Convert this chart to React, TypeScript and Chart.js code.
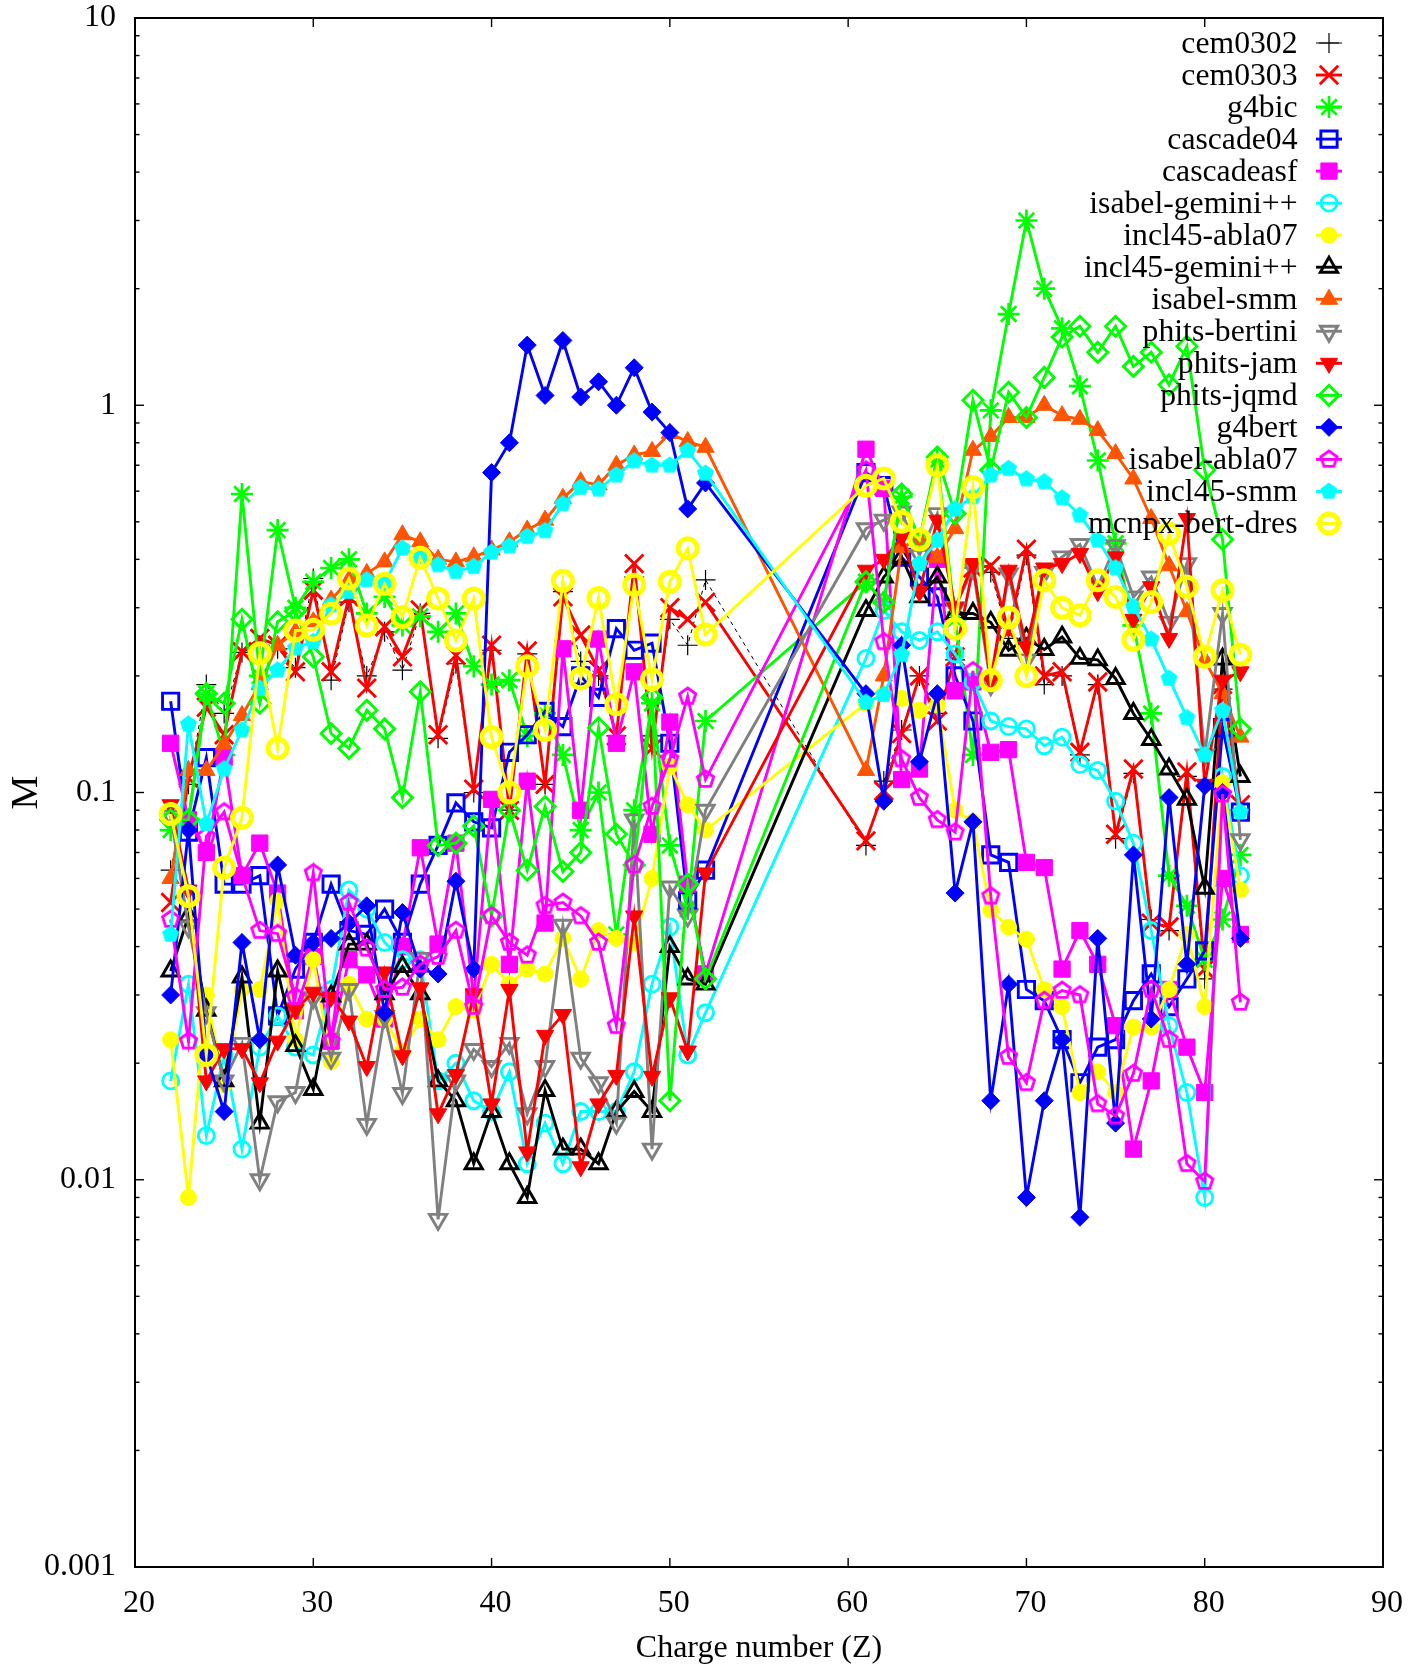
import React, { useEffect, useRef } from "react";
import { Chart, registerables } from "chart.js";
import { drawPoint } from "chart.js/helpers";

Chart.register(...registerables);

const Z = [22,23,24,25,26,27,28,29,30,31,32,33,34,35,36,37,38,39,40,41,42,43,44,45,46,47,48,49,50,51,52,
  61,62,63,64,65,66,67,68,69,70,71,72,73,74,75,76,77,78,79,80,81,82];

const cem0302 = [.063,.105,.19,.16,.23,.24,.235,.21,.357,.195,.31,.2,.26,.207,.29,.138,.215,.1,.233,.09,.228,.105,.33,.218,.2,.14,.36,.14,.28,.24,.354,
  .073,.107,.145,.2,.16,.22,.38,.37,.25,.41,.19,.2,.125,.19,.076,.112,.047,.044,.11,.033,.185,.09];
const cem0303 = [.052,.109,.166,.141,.231,.25,.24,.205,.333,.205,.32,.186,.268,.224,.296,.141,.226,.102,.24,.09,.232,.105,.32,.255,.207,.14,.39,.13,.3,.28,.31,
  .075,.101,.142,.2,.153,.224,.38,.385,.26,.425,.2,.205,.127,.193,.078,.115,.046,.045,.113,.035,.19,.093];
const g4bic = [.08,.085,.18,.125,.59,.2,.476,.3,.35,.38,.4,.29,.32,.27,.285,.26,.29,.212,.19,.195,.14,.16,.125,.08,.1,.043,.09,.17,.073,.05,.153,
  .35,.31,.58,.45,.72,.28,.125,.97,1.72,3.0,2.0,1.58,1.12,.72,.44,.27,.16,.061,.051,.037,.047,.069];
const cascade04 = [.172,.079,.123,.058,.058,.061,.0265,.035,.041,.058,.044,.043,.05,.041,.058,.073,.094,.084,.081,.127,.141,.162,.148,.2,.176,.265,.233,.243,.134,.0525,.063,
  .67,.62,.405,.36,.32,.2,.153,.069,.066,.031,.029,.023,.0178,.022,.023,.029,.034,.028,.033,.039,.147,.089];
const cascadeasf = [.134,.085,.07,.123,.061,.074,.055,.0273,.0377,.0228,.037,.0338,.026,.04,.072,.0406,.074,.0295,.096,.036,.107,.046,.235,.09,.249,.134,.205,.078,.152,.058,.034,
  .77,.61,.108,.115,.4,.183,.193,.127,.129,.066,.064,.035,.044,.036,.025,.012,.018,.031,.022,.0168,.06,.043];
const isabelGemini = [.018,.032,.013,.021,.012,.022,.0265,.022,.021,.031,.056,.05,.041,.037,.037,.018,.02,.016,.015,.019,.011,.014,.011,.015,.015,.015,.019,.032,.045,.021,.027,
  .222,.295,.26,.247,.26,.228,.193,.153,.148,.146,.132,.139,.118,.114,.095,.074,.044,.025,.0168,.009,.11,.061];
const inclAbla = [.023,.009,.03,.0176,.031,.031,.0525,.023,.037,.0202,.032,.026,.026,.0214,.026,.023,.028,.0274,.036,.032,.035,.034,.042,.033,.044,.042,.041,.06,.117,.093,.08,
  .17,.18,.175,.163,.168,.09,.084,.0497,.0449,.0418,.031,.028,.0168,.019,.0168,.0248,.0248,.031,.043,.028,.106,.056];
const inclGemini = [.0346,.048,.0274,.018,.0334,.014,.0346,.0222,.0171,.0298,.0406,.0406,.0302,.0355,.0302,.018,.016,.011,.015,.011,.009,.017,.012,.012,.011,.015,.0169,.015,.04,.033,.032,
  .295,.36,.405,.32,.36,.29,.29,.275,.233,.25,.234,.252,.222,.22,.197,.16,.137,.115,.096,.0566,.221,.11];
const isabelSmm = [.06,.114,.114,.133,.158,.19,.24,.26,.276,.314,.354,.368,.394,.463,.444,.4,.394,.406,.423,.444,.476,.505,.575,.635,.623,.7,.744,.76,.846,.806,.779,
  .114,.2,.43,.45,.405,.48,.765,.83,.93,.93,1.0,.94,.92,.86,.75,.645,.51,.385,.293,.22,.18,.139];
const phitsBertini = [.087,.045,.027,.018,.0225,.01,.0159,.0168,.0295,.0206,.031,.0139,.0264,.0167,.0373,.0079,.018,.0217,.0196,.0225,.0148,.0196,.0454,.0206,.0178,.014,.085,.012,.057,.048,.09,
  .48,.505,.53,.41,.525,.3,.38,.19,.367,.22,.37,.406,.437,.34,.434,.32,.36,.275,.39,.125,.29,.0755];
const phitsJam = [.093,.056,.018,.0218,.0218,.0178,.0228,.0275,.0305,.0296,.0257,.0196,.0344,.0209,.0313,.0148,.0187,.0302,.0157,.031,.0118,.0236,.0267,.0108,.0157,.0186,.048,.0185,.0295,.0215,.062,
  .375,.4,.457,.33,.505,.3,.39,.195,.375,.238,.38,.39,.414,.33,.406,.28,.34,.25,.51,.105,.195,.205];
const phitsJqmd = [.085,.085,.18,.17,.28,.17,.276,.294,.224,.142,.13,.163,.146,.097,.182,.073,.074,.082,.048,.09,.063,.092,.0625,.07,.147,.078,.065,.176,.016,.058,.033,
  .35,.31,.59,.45,.735,.525,1.03,.68,1.08,.93,1.18,1.5,1.6,1.37,1.6,1.26,1.37,1.13,1.42,.68,.45,.146];
const g4bert = [.03,.08,.021,.015,.041,.023,.065,.038,.041,.042,.046,.051,.027,.049,.035,.034,.059,.035,.67,.8,1.43,1.06,1.47,1.05,1.15,1.0,1.25,.96,.85,.54,.63,
  .18,.095,.24,.12,.18,.055,.084,.016,.032,.009,.016,.023,.008,.042,.014,.069,.026,.097,.036,.104,.1,.042];
const isabelAbla = [.047,.0228,.077,.089,.061,.044,.0432,.0297,.062,.0228,.052,.0396,.031,.0314,.036,.0377,.044,.028,.048,.041,.038,.051,.052,.048,.041,.025,.065,.092,.122,.177,.108,
  .68,.245,.122,.097,.085,.079,.206,.054,.0208,.0178,.029,.0308,.03,.0157,.0146,.0188,.031,.023,.011,.0099,.099,.0287];
const inclSmm = [.043,.15,.083,.115,.145,.186,.207,.236,.245,.305,.33,.354,.347,.427,.406,.387,.372,.383,.417,.433,.458,.474,.556,.613,.607,.66,.718,.7,.7,.764,.667,
  .171,.179,.227,.39,.448,.54,.58,.66,.686,.645,.634,.576,.52,.448,.38,.302,.249,.197,.156,.125,.163,.089];
const mcnpx = [.088,.054,.021,.064,.086,.229,.13,.262,.263,.29,.357,.27,.346,.284,.404,.317,.247,.317,.139,.1,.212,.145,.352,.197,.318,.169,.344,.196,.35,.427,.256,
  .62,.647,.5,.45,.7,.265,.615,.195,.283,.2,.353,.3,.287,.353,.32,.248,.31,.466,.34,.224,.333,.227];

const yTicks = [0.001, 0.01, 0.1, 1, 10];
const minorMultipliers = [2, 3, 4, 5, 6, 7, 8, 9];
const FONT = "'Liberation Serif', 'Times New Roman', serif";
const INK = "#000000";

function pentagon(color: string, filled: boolean, lw: number, r: number) {
  const s = Math.ceil(2 * r + 2 * lw + 2);
  const c = document.createElement("canvas");
  c.width = s;
  c.height = s;
  const g = c.getContext("2d")!;
  g.beginPath();
  for (let i = 0; i < 5; i++) {
    const a = -Math.PI / 2 + (i * 2 * Math.PI) / 5;
    g.lineTo(s / 2 + r * Math.cos(a), s / 2 + r * Math.sin(a));
  }
  g.closePath();
  if (filled) {
    g.fillStyle = color;
    g.fill();
  }
  g.strokeStyle = color;
  g.lineWidth = lw;
  g.stroke();
  return c;
}

const LW = 2.9;
const series: any[] = [
  { label: "cem0302", data: cem0302, color: "#000000", style: "cross", r: 10, bw: 1.2, lw: 1, dash: [4, 4], fill: false },
  { label: "cem0303", data: cem0303, color: "#ff0000", style: "crossRot", r: 13, bw: 2.9, fill: false },
  { label: "g4bic", data: g4bic, color: "#00ff00", style: "star", r: 11, bw: 2.7, fill: false },
  { label: "cascade04", data: cascade04, color: "#0000ff", style: "rect", r: 11.5, bw: 2.9, fill: false },
  { label: "cascadeasf", data: cascadeasf, color: "#ff00ff", style: "rect", r: 11.5, bw: 1, fill: true },
  { label: "isabel-gemini++", data: isabelGemini, color: "#00ffff", style: "circle", r: 8, bw: 2.9, fill: false },
  { label: "incl45-abla07", data: inclAbla, color: "#ffff00", style: "circle", r: 8, bw: 1, fill: true },
  { label: "incl45-gemini++", data: inclGemini, color: "#000000", style: "triangle", r: 10, bw: 2.9, fill: false },
  { label: "isabel-smm", data: isabelSmm, color: "#ff5500", style: "triangle", r: 10, bw: 1, fill: true },
  { label: "phits-bertini", data: phitsBertini, color: "#808080", style: "triangle", rot: 180, r: 10, bw: 2.9, fill: false },
  { label: "phits-jam", data: phitsJam, color: "#ff0000", style: "triangle", rot: 180, r: 10, bw: 1, fill: true },
  { label: "phits-jqmd", data: phitsJqmd, color: "#00ff00", style: "rectRot", r: 10, bw: 2.9, fill: false },
  { label: "g4bert", data: g4bert, color: "#0000ff", style: "rectRot", r: 9, bw: 1, fill: true },
  { label: "isabel-abla07", data: isabelAbla, color: "#ff00ff", style: "pent", r: 8.5, bw: 2.9, fill: false },
  { label: "incl45-smm", data: inclSmm, color: "#00ffff", style: "pent", r: 8, bw: 1.5, fill: true },
  { label: "mcnpx-bert-dres", data: mcnpx, color: "#ffff00", style: "circle", r: 9.5, bw: 5, fill: false },
];

const frame = {
  id: "frame",
  afterDatasetsDraw(chart: any) {
    const { ctx, chartArea: a, scales } = chart;
    const { x, y } = scales;
    ctx.save();
    ctx.strokeStyle = INK;
    ctx.lineWidth = 1.4;
    const seg = (x0: number, y0: number, x1: number, y1: number) => {
      ctx.beginPath();
      ctx.moveTo(x0, y0);
      ctx.lineTo(x1, y1);
      ctx.stroke();
    };
    for (let v = 20; v <= 90; v += 10) {
      const p = x.getPixelForValue(v);
      seg(p, a.bottom, p, a.bottom - 9);
      seg(p, a.top, p, a.top + 9);
    }
    yTicks.forEach((t, i) => {
      const p = y.getPixelForValue(t);
      seg(a.left, p, a.left + 9, p);
      seg(a.right, p, a.right - 9, p);
      if (i < yTicks.length - 1) {
        minorMultipliers.forEach((m) => {
          const q = y.getPixelForValue(t * m);
          seg(a.left, q, a.left + 4.5, q);
          seg(a.right, q, a.right - 4.5, q);
        });
      }
    });
    ctx.lineWidth = 2;
    ctx.strokeRect(a.left, a.top, a.right - a.left, a.bottom - a.top);

    ctx.font = `31.7px ${FONT}`;
    ctx.textAlign = "right";
    ctx.textBaseline = "middle";
    series.forEach((s, i) => {
      const py = 43 + i * 32.03;
      ctx.fillStyle = INK;
      ctx.fillText(s.label, 1297.5, py + 1.5);
      ctx.strokeStyle = s.color;
      ctx.lineWidth = s.lw ?? LW;
      ctx.setLineDash([]);
      seg(1316, py, 1342, py);
      const ds = chart.data.datasets[i];
      ctx.fillStyle = ds.pointBackgroundColor;
      ctx.strokeStyle = s.color;
      ctx.lineWidth = s.bw;
      drawPoint(ctx, { pointStyle: ds.pointStyle, rotation: ds.pointRotation ?? 0, radius: s.r, borderWidth: s.bw }, 1329, py);
    });
    ctx.restore();
  },
};

export default function App() {
  const ref = useRef<HTMLCanvasElement>(null);
  useEffect(() => {
    const chart = new Chart(ref.current!, {
      type: "line",
      plugins: [frame],
      data: {
        datasets: series.map((s, i) => ({
          label: s.label,
          data: Z.map((z, k) => ({ x: z, y: s.data[k] })),
          order: series.length - i,
          borderColor: s.color,
          borderWidth: s.lw ?? LW,
          borderDash: s.dash ?? [],
          tension: 0,
          fill: false,
          pointStyle: s.style === "pent" ? pentagon(s.color, s.fill, s.bw, s.r) : s.style,
          pointRotation: s.rot ?? 0,
          pointRadius: s.r,
          pointBorderWidth: s.bw,
          pointBorderColor: s.color,
          pointBackgroundColor: s.fill ? s.color : "rgba(0,0,0,0)",
        })),
      },
      options: {
        responsive: false,
        animation: false,
        devicePixelRatio: 1,
        events: [],
        layout: { padding: { top: 18, right: 39, left: 0, bottom: 0 } },
        plugins: { legend: { display: false }, tooltip: { enabled: false } },
        scales: {
          x: {
            type: "linear",
            min: 20,
            max: 90,
            grid: { display: false, drawTicks: false },
            border: { display: false },
            afterFit: (s: any) => { s.height = 101; s.paddingLeft = 0; s.paddingRight = 0; },
            ticks: { stepSize: 10, color: INK, padding: 17, labelOffset: 4, maxRotation: 0, font: { family: FONT, size: 32 } },
            title: { display: true, text: "Charge number (Z)", color: INK, font: { family: FONT, size: 32 }, padding: { top: 0, bottom: 0 } },
          },
          y: {
            type: "logarithmic",
            min: 0.001,
            max: 10,
            grid: { display: false, drawTicks: false },
            border: { display: false },
            afterFit: (s: any) => { s.width = 135; s.paddingTop = 0; s.paddingBottom = 0; },
            afterBuildTicks: (s: any) => { s.ticks = yTicks.map((value) => ({ value, major: true })); },
            ticks: { color: INK, padding: 19, autoSkip: false, font: { family: FONT, size: 32 }, callback: (v: any) => String(v) },
            title: { display: true, text: "M", color: INK, font: { family: FONT, size: 38 }, padding: { top: 4, bottom: 0 } },
          },
        },
      },
    } as any);
    return () => chart.destroy();
  }, []);
  return (
    <div style={{ position: "absolute", left: 0, top: 0, background: "#fff" }}>
      <canvas ref={ref} width={1422} height={1668} style={{ display: "block" }} />
    </div>
  );
}
